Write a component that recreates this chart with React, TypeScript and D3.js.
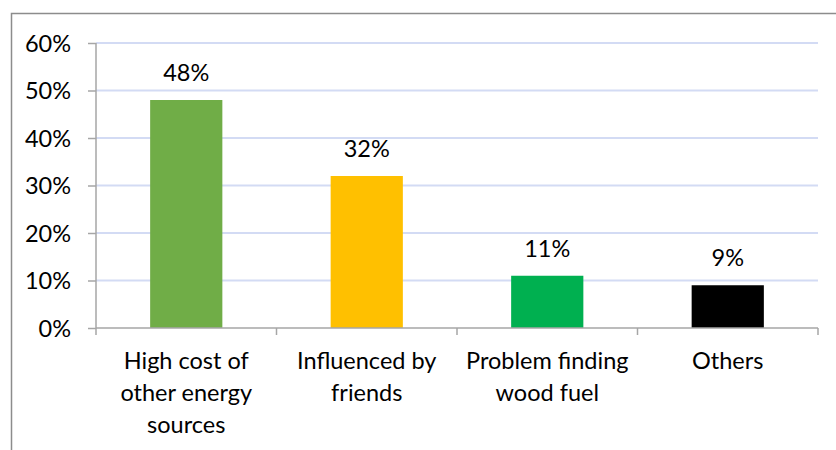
import { useEffect, useRef } from "react";
import * as d3 from "d3";

const W = 836;
const H = 450;
const margin = { top: 43, right: 18, bottom: 122, left: 96 };

const CATEGORIES: string[][] = [
  ["High cost of", "other energy", "sources"],
  ["Influenced by", "friends"],
  ["Problem finding", "wood fuel"],
  ["Others"],
];
const VALUES: number[] = [48, 32, 11, 9];
const COLORS: string[] = ["#70ad47", "#ffc000", "#00b050", "#000000"];
const Y_TICKS: number[] = [0, 10, 20, 30, 40, 50, 60];

const FONT = "Lato, 'Open Sans', sans-serif";
const FS = 23.5;

const App = () => {
  const svgRef = useRef<SVGSVGElement | null>(null);

  useEffect(() => {
    if (!svgRef.current) return;
    document.body.style.margin = "0";

    const svg = d3.select(svgRef.current);
    svg.selectAll("*").remove();

    const innerW = W - margin.left - margin.right;
    const innerH = H - margin.top - margin.bottom;

    const keys = CATEGORIES.map((_, i) => String(i));
    const x = d3.scaleBand().domain(keys).range([0, innerW]).paddingInner(0.6).paddingOuter(0.3);
    const y = d3.scaleLinear().domain([0, 60]).range([innerH, 0]);

    // chart border
    svg
      .append("rect")
      .attr("x", 11.5)
      .attr("y", 13.5)
      .attr("width", W)
      .attr("height", H)
      .attr("fill", "none")
      .attr("stroke", "#8c8c8c")
      .attr("stroke-width", 1.5);

    const g = svg.append("g").attr("transform", `translate(${margin.left}, ${margin.top})`);

    // gridlines
    g.append("g")
      .selectAll("line")
      .data(Y_TICKS.filter((t) => t > 0))
      .join("line")
      .attr("x1", 0)
      .attr("x2", innerW)
      .attr("y1", (d) => y(d))
      .attr("y2", (d) => y(d))
      .attr("stroke", "#d3dbf4")
      .attr("stroke-width", 2);

    // bars
    g.append("g")
      .selectAll("rect")
      .data(VALUES)
      .join("rect")
      .attr("x", (_, i) => x(keys[i])!)
      .attr("y", (d) => y(d))
      .attr("width", x.bandwidth())
      .attr("height", (d) => innerH - y(d))
      .attr("fill", (_, i) => COLORS[i]);

    // value labels
    g.append("g")
      .selectAll("text")
      .data(VALUES)
      .join("text")
      .attr("x", (_, i) => x(keys[i])! + x.bandwidth() / 2)
      .attr("y", (d) => y(d) - 19)
      .attr("text-anchor", "middle")
      .attr("font-family", FONT)
      .attr("font-size", FS)
      .attr("fill", "#000")
      .text((d) => `${d}%`);

    // y axis
    const yAxis = g
      .append("g")
      .call(
        d3
          .axisLeft(y)
          .tickValues(Y_TICKS)
          .tickSize(8)
          .tickPadding(17)
          .tickFormat((d) => `${d}%`)
      );
    yAxis.select(".domain").attr("stroke", "#a6a6a6").attr("stroke-width", 1.5).attr("d", `M0,0V${innerH}`);
    yAxis.selectAll(".tick line").attr("stroke", "#a6a6a6").attr("stroke-width", 1.5);
    yAxis
      .selectAll(".tick text")
      .attr("font-family", FONT)
      .attr("font-size", FS)
      .attr("fill", "#000")
      .attr("dy", "0.36em");

    // x axis
    const step = x.step();
    const xAxis = g.append("g").attr("transform", `translate(0, ${innerH})`);
    xAxis
      .append("line")
      .attr("x1", 0)
      .attr("x2", innerW)
      .attr("stroke", "#a6a6a6")
      .attr("stroke-width", 1.5);
    xAxis
      .selectAll("line.tick")
      .data(d3.range(CATEGORIES.length + 1))
      .join("line")
      .attr("class", "tick")
      .attr("x1", (d) => d * step)
      .attr("x2", (d) => d * step)
      .attr("y1", 0)
      .attr("y2", 7)
      .attr("stroke", "#a6a6a6")
      .attr("stroke-width", 1.5);

    xAxis
      .selectAll("text.cat")
      .data(CATEGORIES)
      .join("text")
      .attr("class", "cat")
      .attr("x", (_, i) => x(keys[i])! + x.bandwidth() / 2)
      .attr("y", 41)
      .attr("text-anchor", "middle")
      .attr("font-family", FONT)
      .attr("font-size", FS)
      .attr("fill", "#000")
      .each(function (lines) {
        const t = d3.select(this);
        const cx = t.attr("x");
        lines.forEach((ln, j) => {
          t.append("tspan")
            .attr("x", cx)
            .attr("dy", j === 0 ? 0 : 32)
            .text(ln);
        });
      });
  }, []);

  return <svg ref={svgRef} width={W} height={H} style={{ display: "block" }} />;
};

export default App;
